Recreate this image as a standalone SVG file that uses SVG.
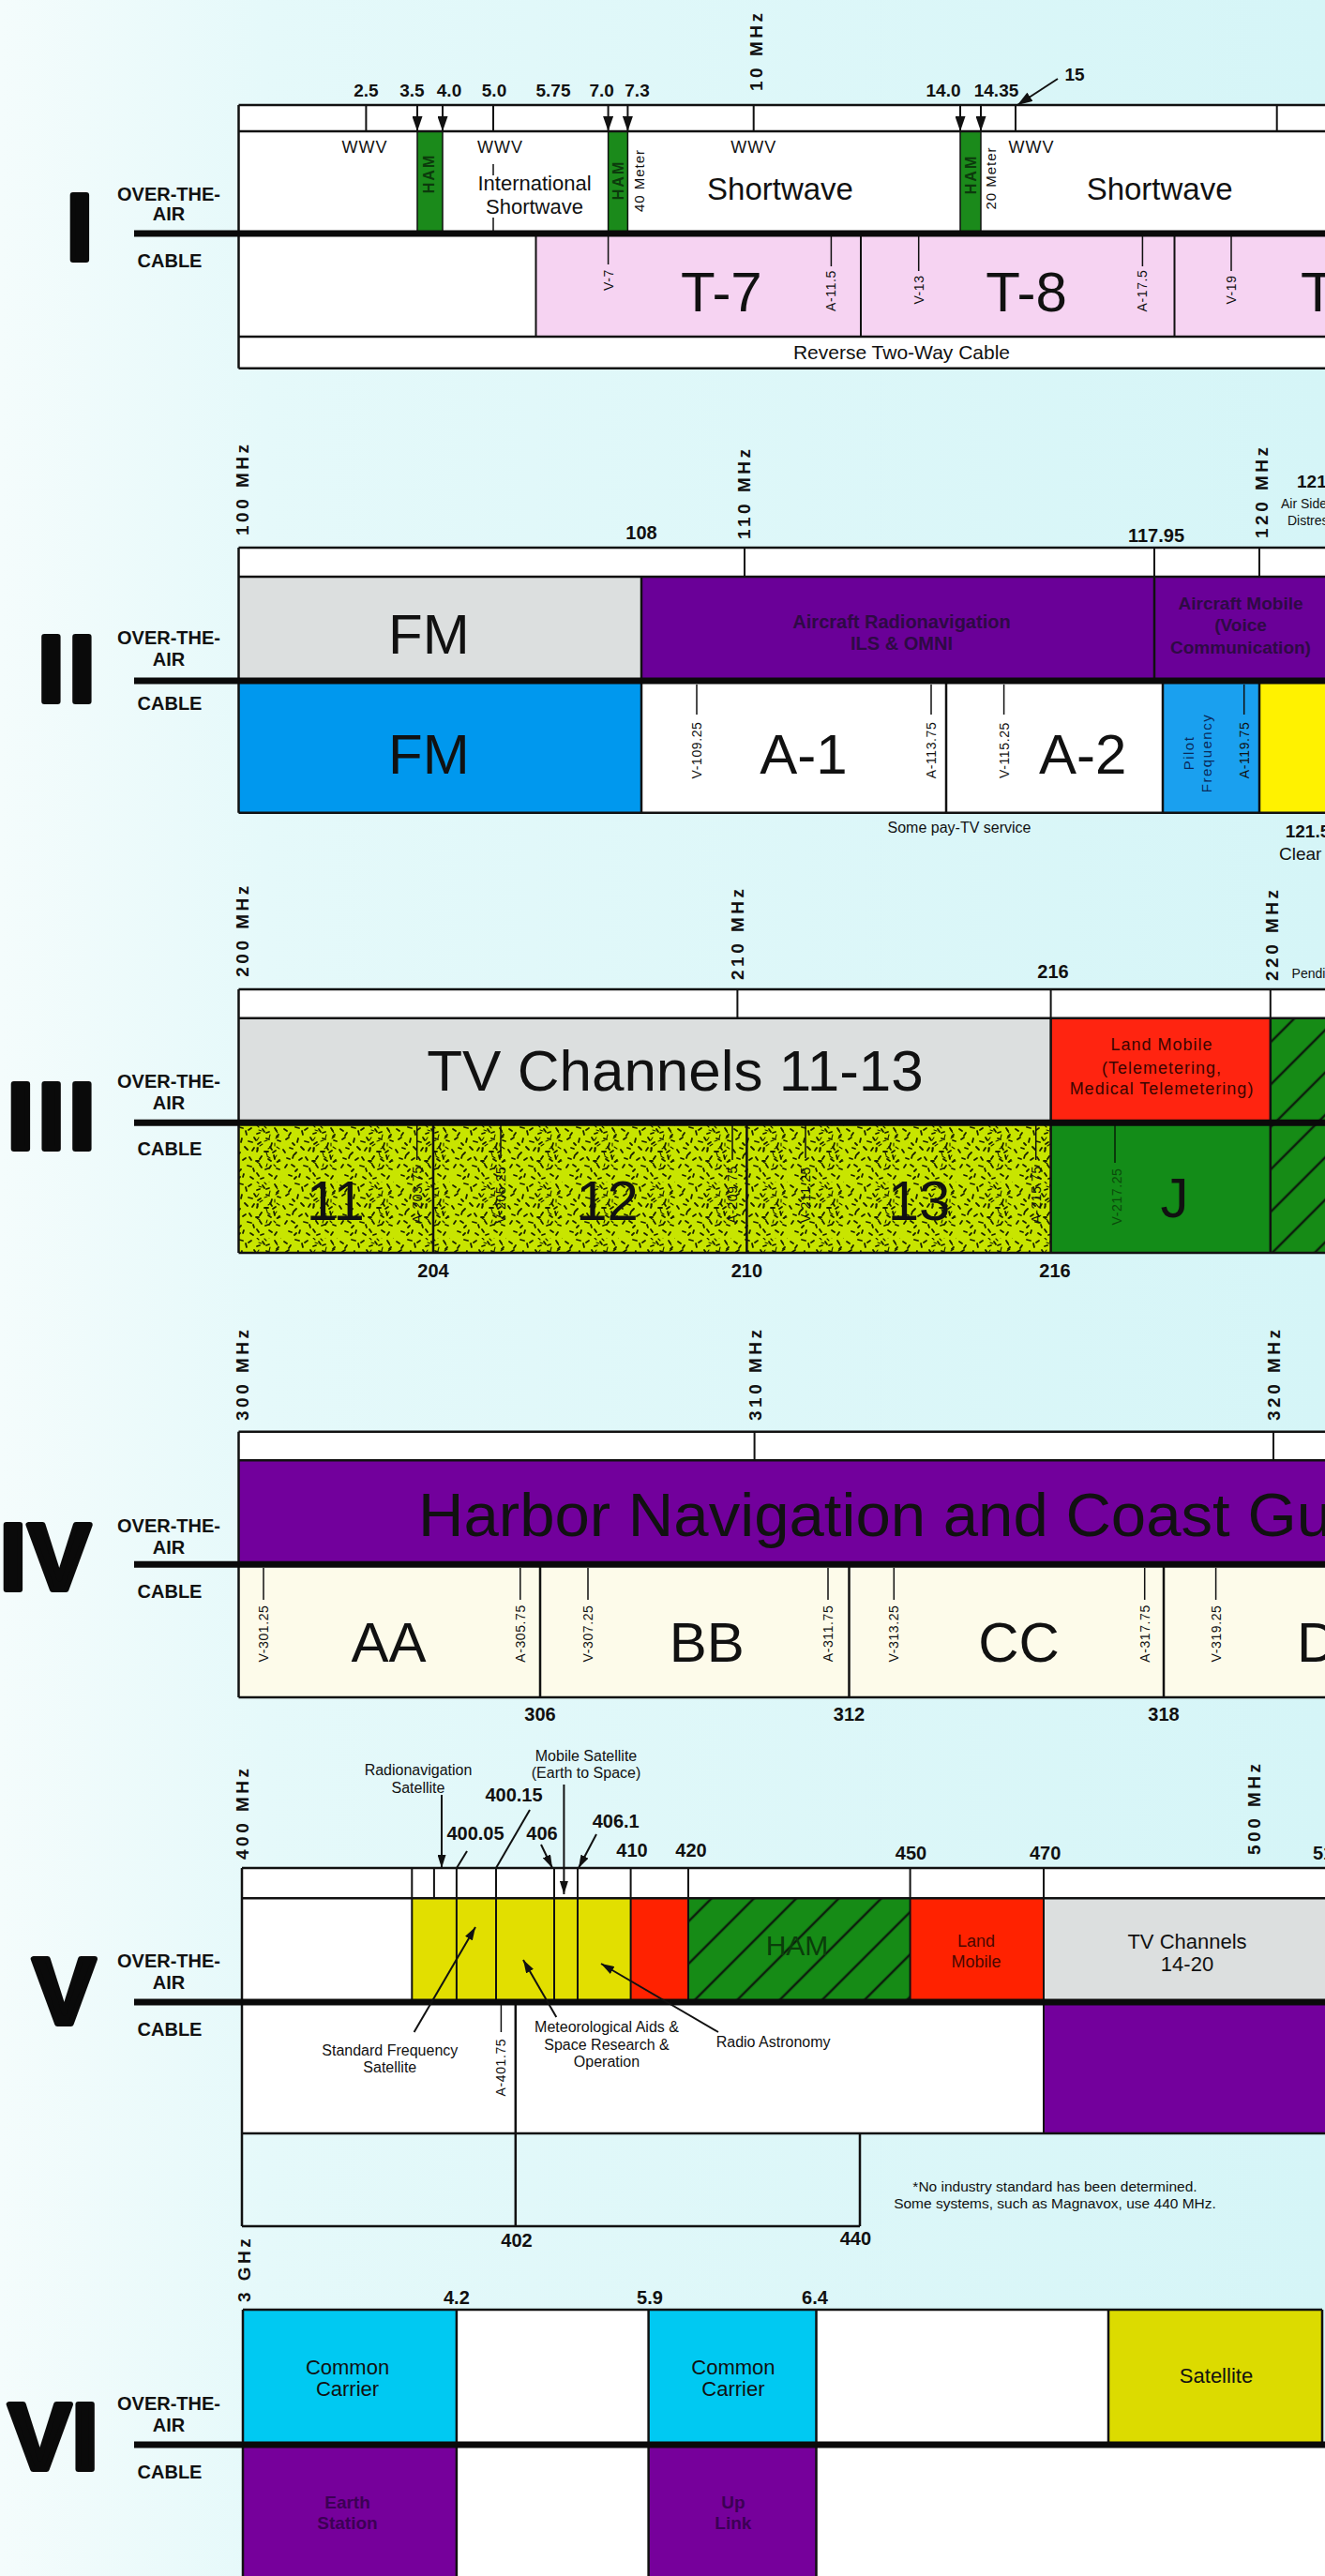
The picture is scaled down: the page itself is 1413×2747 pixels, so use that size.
<svg xmlns="http://www.w3.org/2000/svg" width="1413" height="2747" viewBox="0 0 1413 2747">
<defs>
<linearGradient id="bg" x1="0" y1="0" x2="1" y2="0">
<stop offset="0" stop-color="#f4fcfc"/><stop offset="0.2" stop-color="#e5f9fa"/><stop offset="1" stop-color="#d5f5f7"/>
</linearGradient>
<pattern id="hatch" patternUnits="userSpaceOnUse" width="32" height="32" patternTransform="rotate(45)">
<rect width="32" height="32" fill="#168b16"/><line x1="16" y1="0" x2="16" y2="32" stroke="#0c1f0c" stroke-width="2.5"/>
</pattern>
<path id="spk" d="M3 4l3 2M10 8l-2 3M15 2l4 1M22 6l1 4M28 3l-3 2M34 9l3-1M40 4l2 3M47 7l-3 1M53 3l2 3M57 10l-2 2M5 15l3-2M12 19l2 2M18 14l-1 4M25 17l4 1M31 13l2 3M38 18l-3 2M44 14l3 1M50 19l-1 3M56 16l3 1M2 26l2 3M9 24l3 1M16 29l-2 2M21 23l3 3M29 27l2-3M35 24l-1 4M42 28l4 0M48 23l2 3M54 27l-3 2M6 35l3 1M13 32l-1 3M19 37l3-2M26 34l2 3M33 38l3 0M39 33l-2 3M46 36l3 2M52 32l1 4M58 37l-2 2M4 45l2-3M11 42l3 2M17 47l-2 2M24 43l4 1M30 46l1 3M37 42l2 3M43 47l3-1M49 43l-2 3M55 46l3 1M8 53l3 1M14 57l2-2M20 52l-1 3M27 55l3 2M34 51l2 3M41 56l-3 1M47 52l3 2M53 57l2-3"/>
<pattern id="speck" patternUnits="userSpaceOnUse" width="60" height="60">
<rect width="60" height="60" fill="#c8e500"/>
<use href="#spk" stroke="#1c2400" stroke-width="1.8" fill="none" stroke-linecap="round"/>
<use href="#spk" stroke="#1c2400" stroke-width="1.1" fill="none" stroke-linecap="round" transform="translate(31,17) rotate(90 0 0) translate(-31,-60)"/>
</pattern>
<marker id="ah" viewBox="0 0 16 11" refX="16" refY="5.5" markerWidth="16" markerHeight="11" markerUnits="userSpaceOnUse" orient="auto"><path d="M0 0L16 5.5L0 11Z" fill="#111"/></marker>
<marker id="ahs" viewBox="0 0 14 9" refX="14" refY="4.5" markerWidth="14" markerHeight="9" markerUnits="userSpaceOnUse" orient="auto"><path d="M0 0L14 4.5L0 9Z" fill="#111"/></marker>
</defs>
<style>
text{font-family:"Liberation Sans",Arial,Helvetica,sans-serif;fill:#111}
.rom{font-size:100px;font-weight:bold;stroke:#0a0a0a;stroke-width:6;stroke-linejoin:round;fill:#0a0a0a}
.lab{font-size:20px;font-weight:bold;text-anchor:middle}
.num{font-size:19px;font-weight:bold;text-anchor:middle}
.n20{font-size:20px;font-weight:bold;text-anchor:middle}
.mhz{font-size:19px;font-weight:bold;letter-spacing:3.5px}
.ch{font-size:14px;text-anchor:middle;letter-spacing:0.6px}
.big{font-size:60px;text-anchor:middle}
.mid{font-size:22px;text-anchor:middle}
.sw{font-size:33px;text-anchor:middle}
.wwv{font-size:18px;text-anchor:middle;letter-spacing:1px}
.ann{font-size:16px;text-anchor:middle}
.dk{font-size:19px;font-weight:bold;text-anchor:middle;fill:#2e0a44}
.ham{font-size:16px;font-weight:bold;text-anchor:middle;letter-spacing:2px;fill:#0c3a0c}
.met{font-size:15px;text-anchor:middle;letter-spacing:1px}
.ln{fill:none;stroke:#111;stroke-width:2.5}
.tk{fill:none;stroke:#111;stroke-width:2}
.tn{fill:none;stroke:#111;stroke-width:1.5}
.thick{stroke:#0a0a0a;stroke-width:7}
</style>
<rect width="1413" height="2747" fill="url(#bg)"/>

<!-- SECTION I -->
<g id="sec1">
<g id="s1-title"><text class="rom" x="71" y="277">I</text>
<text class="lab" x="180" y="214">OVER-THE-</text><text class="lab" x="180" y="235">AIR</text><text class="lab" x="181" y="285">CABLE</text></g>
<g id="s1-base"><rect x="254.5" y="112" width="1158.5" height="281" fill="#fff"/></g>
<g id="s1-pink"><rect x="571.5" y="249" width="841.5" height="110" fill="#f6d3f2"/></g>
<g id="s1-ham80"><rect x="445" y="140" width="27" height="109" fill="#1b8a1b" stroke="#111" stroke-width="1.5"/><text class="ham" transform="translate(463,185) rotate(-90)">HAM</text></g>
<g id="s1-ham40"><rect x="648.6" y="140" width="20.8" height="109" fill="#1b8a1b" stroke="#111" stroke-width="1.5"/><text class="ham" transform="translate(664.7,192) rotate(-90)">HAM</text><text class="met" transform="translate(687,192.5) rotate(-90)">40 Meter</text></g>
<g id="s1-ham20"><rect x="1024" y="140" width="22" height="109" fill="#1b8a1b" stroke="#111" stroke-width="1.5"/><text class="ham" transform="translate(1041.3,186) rotate(-90)">HAM</text><text class="met" transform="translate(1062.4,190) rotate(-90)">20 Meter</text></g>
<path class="ln" d="M254.5 112H1413M254.5 140H1413M254.5 359H1413M254.5 392.7H1413M254.5 112V392.7"/>
<path class="tk" d="M390.4 112V140M526 112V140M803.7 112V140M1083 112V140M1361.7 112V140M571.5 249V359M918 249V359M1252.5 249V359"/>
<path class="tn" d="M526 175V187M526 232V247M648.6 252V282M886.4 252V284M979.7 252V289M1218.4 252V284M1313 252V289"/>
<line class="thick" x1="143" y1="249" x2="1413" y2="249"/>
<g id="s1-scale">
<text class="num" x="390.4" y="103">2.5</text><text class="num" x="439.4" y="103">3.5</text><text class="num" x="479" y="103">4.0</text><text class="num" x="527" y="103">5.0</text><text class="num" x="590" y="103">5.75</text><text class="num" x="641.7" y="103">7.0</text><text class="num" x="679.5" y="103">7.3</text><text class="num" x="1006" y="103">14.0</text><text class="num" x="1062.5" y="103">14.35</text><text class="num" x="1146" y="86">15</text>
<text class="mhz" transform="translate(812.5,97) rotate(-90)">10 MHz</text>
</g>
<g id="s1-ota">
<text class="wwv" x="389" y="163">WWV</text><text class="wwv" x="533.5" y="163">WWV</text><text class="wwv" x="803.7" y="163">WWV</text><text class="wwv" x="1100" y="163">WWV</text>
<text class="mid" x="570" y="203">International</text><text class="mid" x="570" y="228">Shortwave</text>
<text class="sw" x="832" y="213">Shortwave</text><text class="sw" x="1236.6" y="213">Shortwave</text>
</g>
<g id="s1-cable">
<text class="ch" transform="translate(653.6,298.5) rotate(-90)">V-7</text>
<text class="big" x="769.4" y="332">T-7</text>
<text class="ch" transform="translate(891.4,310) rotate(-90)">A-11.5</text>
<text class="ch" transform="translate(984.7,309) rotate(-90)">V-13</text>
<text class="big" x="1094.6" y="332">T-8</text>
<text class="ch" transform="translate(1223.4,310) rotate(-90)">A-17.5</text>
<text class="ch" transform="translate(1318,309) rotate(-90)">V-19</text>
<text class="big" x="1387" y="332" style="text-anchor:start">T-9</text>
<text x="961.5" y="383" style="font-size:21px;text-anchor:middle">Reverse Two-Way Cable</text>
</g>
</g>

<!-- SECTION II -->
<g id="sec2">
<g id="s2-title"><text class="rom" x="40.6" y="748" style="letter-spacing:5px">II</text>
<text class="lab" x="180" y="686.7">OVER-THE-</text><text class="lab" x="180" y="710">AIR</text><text class="lab" x="181" y="756.7">CABLE</text></g>
<rect x="254.5" y="584" width="1158.5" height="31" fill="#fff"/>
<g id="s2-fm-ota"><rect x="254.5" y="615" width="429.5" height="111" fill="#dcdfdf"/><text class="big" x="457.4" y="696.7">FM</text></g>
<g id="s2-airnav"><rect x="684" y="615" width="547" height="111" fill="#6a0098"/><text class="dk" x="961.5" y="670" style="font-size:20px">Aircraft Radionavigation</text><text class="dk" x="961.5" y="693" style="font-size:20px">ILS &amp; OMNI</text></g>
<g id="s2-airmobile"><rect x="1231" y="615" width="182" height="111" fill="#6a0098"/><text class="dk" x="1323" y="650">Aircraft Mobile</text><text class="dk" x="1323" y="673">(Voice</text><text class="dk" x="1323" y="697">Communication)</text></g>
<g id="s2-fm-cable"><rect x="254.5" y="726" width="429.5" height="140.7" fill="#0098ee"/><text class="big" x="457.4" y="825">FM</text></g>
<g id="s2-a1"><rect x="684" y="726" width="325" height="140.7" fill="#fff"/><text class="big" x="857" y="825">A-1</text></g>
<g id="s2-a2"><rect x="1009" y="726" width="231" height="140.7" fill="#fff"/><text class="big" x="1154.7" y="825">A-2</text></g>
<g id="s2-pilot"><rect x="1240" y="726" width="103" height="140.7" fill="#1aa0ef"/><text class="met" style="fill:#0a2a5a;letter-spacing:1.5px" transform="translate(1273,803) rotate(-90)">Pilot</text><text class="met" style="fill:#0a2a5a;letter-spacing:1.5px" transform="translate(1292,803) rotate(-90)">Frequency</text></g>
<g id="s2-yellow"><rect x="1343" y="726" width="70" height="140.7" fill="#fff200"/></g>
<path class="ln" d="M254.5 584H1413M254.5 615H1413M254.5 866.7H1413M254.5 584V866.7M684 615V866.7M1231 615V726M1009 726V866.7M1240 726V866.7M1343 726V866.7"/>
<path class="tk" d="M794 584V615M1231 584V615M1343 584V615"/>
<path class="tn" d="M743 730V762M993 730V762M1070.6 730V762M1326.7 730V762"/>
<line class="thick" x1="143" y1="726" x2="1413" y2="726"/>
<text class="ch" transform="translate(748,800) rotate(-90)">V-109.25</text>
<text class="ch" transform="translate(998,800) rotate(-90)">A-113.75</text>
<text class="ch" transform="translate(1075.6,800) rotate(-90)">V-115.25</text>
<text class="ch" transform="translate(1331.7,800) rotate(-90)">A-119.75</text>
<g id="s2-scale">
<text class="mhz" transform="translate(265,571) rotate(-90)">100 MHz</text>
<text class="mhz" transform="translate(800,575) rotate(-90)">110 MHz</text>
<text class="mhz" transform="translate(1352,574) rotate(-90)">120 MHz</text>
<text class="n20" x="684" y="575">108</text><text class="n20" x="1233" y="578">117.95</text>
<text x="1383" y="520" style="font-size:19px;font-weight:bold">121.5</text>
<text x="1366" y="542" style="font-size:14px">Air Side</text><text x="1373" y="560" style="font-size:14px">Distress</text>
<text x="1023" y="888" style="font-size:16px;text-anchor:middle">Some pay-TV service</text>
<text x="1370.7" y="893" style="font-size:19px;font-weight:bold">121.5</text>
<text x="1364" y="917" style="font-size:19px">Clear</text>
</g>
</g>

<!-- SECTION III -->
<g id="sec3">
<g id="s3-title"><text class="rom" x="8" y="1225" style="letter-spacing:5px">III</text>
<text class="lab" x="180" y="1160">OVER-THE-</text><text class="lab" x="180" y="1183">AIR</text><text class="lab" x="181" y="1231.7">CABLE</text></g>
<rect x="254.5" y="1055" width="1158.5" height="30.7" fill="#fff"/>
<g id="s3-tv"><rect x="254.5" y="1085.7" width="866.1" height="111.6" fill="#dcdfdf"/><text x="720" y="1163" style="font-size:62px;text-anchor:middle">TV Channels 11-13</text></g>
<g id="s3-landmobile"><rect x="1120.6" y="1085.7" width="234.2" height="111.6" fill="#ff2410"/>
<text x="1239" y="1120" style="font-size:18px;text-anchor:middle;letter-spacing:1px;fill:#3a0500">Land Mobile</text>
<text x="1239" y="1144.5" style="font-size:18px;text-anchor:middle;letter-spacing:1px;fill:#3a0500">(Telemetering,</text>
<text x="1239" y="1167" style="font-size:18px;text-anchor:middle;letter-spacing:1px;fill:#3a0500">Medical Telemetering)</text></g>
<g id="s3-hatch"><rect x="1354.8" y="1085.7" width="58.2" height="250.3" fill="url(#hatch)"/></g>
<g id="s3-cable11-13"><rect x="254.5" y="1197.3" width="866.1" height="138.7" fill="url(#speck)"/>
<text class="big" x="357.8" y="1301">11</text><text class="big" x="647.6" y="1301">12</text><text class="big" x="980" y="1301">13</text></g>
<g id="s3-j"><rect x="1120.6" y="1197.3" width="234.2" height="138.7" fill="#138c18"/><text class="big" x="1252.5" y="1298">J</text>
<path d="M1189 1200V1240" stroke="#0a3a0a" stroke-width="2"/><text class="ch" style="fill:#0b4a0b" transform="translate(1196,1276) rotate(-90)">V-217.25</text></g>
<path class="ln" d="M254.5 1055H1413M254.5 1085.7H1413M254.5 1336H1413M254.5 1055V1336M1120.6 1085.7V1336M1354.8 1085.7V1336M462 1197V1336M796.4 1197V1336"/>
<path class="tk" d="M786.4 1055V1085.7M1120.6 1055V1085.7M1354.8 1055V1085.7"/>
<path class="tn" d="M444.7 1200V1237M534 1200V1235M781 1200V1237M859 1200V1235M1104.7 1200V1237"/>
<line class="thick" x1="143" y1="1197.3" x2="1413" y2="1197.3"/>
<text class="ch" transform="translate(449.7,1274) rotate(-90)">A-203.75</text>
<text class="ch" transform="translate(539,1274) rotate(-90)">V-205.25</text>
<text class="ch" transform="translate(786,1274) rotate(-90)">A-209.75</text>
<text class="ch" transform="translate(864,1274) rotate(-90)">V-211.25</text>
<text class="ch" transform="translate(1109.7,1274) rotate(-90)">A-215.75</text>
<g id="s3-scale">
<text class="mhz" transform="translate(265,1041.7) rotate(-90)">200 MHz</text>
<text class="mhz" transform="translate(793.4,1045) rotate(-90)">210 MHz</text>
<text class="mhz" transform="translate(1363,1046) rotate(-90)">220 MHz</text>
<text class="n20" x="1123" y="1043">216</text>
<text x="1377.6" y="1042.7" style="font-size:14px">Pending</text>
<text class="n20" x="462" y="1361.7">204</text><text class="n20" x="796.4" y="1361.7">210</text><text class="n20" x="1125" y="1361.7">216</text>
</g>
</g>

<!-- SECTION IV -->
<g id="sec4">
<g id="s4-title"><text class="rom" x="0" y="1695" style="letter-spacing:2px">IV</text>
<text class="lab" x="180" y="1634">OVER-THE-</text><text class="lab" x="180" y="1656.7">AIR</text><text class="lab" x="181" y="1704">CABLE</text></g>
<rect x="254.5" y="1526.7" width="1158.5" height="30.6" fill="#fff"/>
<g id="s4-harbor"><rect x="254.5" y="1557.3" width="1158.5" height="111" fill="#72009c"/>
<text x="446" y="1638" style="font-size:64px" textLength="1071" lengthAdjust="spacingAndGlyphs">Harbor Navigation and Coast Guard</text></g>
<g id="s4-cable"><rect x="254.5" y="1668.3" width="1158.5" height="141.7" fill="#fdfbea"/>
<text class="big" x="414.4" y="1771.7">AA</text><text class="big" x="753.7" y="1771.7">BB</text><text class="big" x="1086.5" y="1771.7">CC</text><text class="big" x="1383" y="1771.7" style="text-anchor:start">DD</text></g>
<path class="ln" d="M254.5 1526.7H1413M254.5 1557.3H1413M254.5 1810H1413M254.5 1526.7V1810M576 1668V1810M905.5 1668V1810M1241 1668V1810"/>
<path class="tk" d="M804.6 1526.7V1557.3M1358 1526.7V1557.3"/>
<path class="tn" d="M281 1672V1706M554.8 1672V1706M627 1672V1706M883 1672V1706M953.3 1672V1706M1220.7 1672V1706M1296.6 1672V1706"/>
<line class="thick" x1="143" y1="1668.3" x2="1413" y2="1668.3"/>
<text class="ch" transform="translate(286,1742) rotate(-90)">V-301.25</text>
<text class="ch" transform="translate(559.8,1742) rotate(-90)">A-305.75</text>
<text class="ch" transform="translate(632,1742) rotate(-90)">V-307.25</text>
<text class="ch" transform="translate(888,1742) rotate(-90)">A-311.75</text>
<text class="ch" transform="translate(958.3,1742) rotate(-90)">V-313.25</text>
<text class="ch" transform="translate(1225.7,1742) rotate(-90)">A-317.75</text>
<text class="ch" transform="translate(1301.6,1742) rotate(-90)">V-319.25</text>
<g id="s4-scale">
<text class="mhz" transform="translate(265,1515) rotate(-90)">300 MHz</text>
<text class="mhz" transform="translate(811.6,1515) rotate(-90)">310 MHz</text>
<text class="mhz" transform="translate(1365,1515) rotate(-90)">320 MHz</text>
<text class="n20" x="576" y="1835">306</text><text class="n20" x="905.5" y="1835">312</text><text class="n20" x="1241" y="1835">318</text>
</g>
</g>

<!-- SECTION V -->
<g id="sec5">
<g id="s5-title"><text class="rom" x="35" y="2158">V</text>
<text class="lab" x="180" y="2097.5">OVER-THE-</text><text class="lab" x="180" y="2121">AIR</text><text class="lab" x="181" y="2171">CABLE</text></g>
<rect x="258" y="1992" width="1155" height="32.3" fill="#fff"/>
<rect x="258" y="2024.3" width="181.3" height="110.7" fill="#fff"/>
<g id="s5-sat"><rect x="439.3" y="2024.3" width="233.3" height="110.7" fill="#e2df00"/></g>
<g id="s5-red1"><rect x="672.6" y="2024.3" width="61.4" height="110.7" fill="#ff2200"/></g>
<g id="s5-ham"><rect x="734" y="2024.3" width="236.6" height="110.7" fill="url(#hatch)"/><text x="850" y="2085" style="font-size:30px;text-anchor:middle;fill:#0a3d0a">HAM</text></g>
<g id="s5-landmobile"><rect x="970.6" y="2024.3" width="142.4" height="110.7" fill="#ff2200"/><text x="1041" y="2076" style="font-size:18px;text-anchor:middle;fill:#4a0800">Land</text><text x="1041" y="2097.5" style="font-size:18px;text-anchor:middle;fill:#4a0800">Mobile</text></g>
<g id="s5-tv"><rect x="1113" y="2024.3" width="300" height="110.7" fill="#dcdfdf"/><text class="mid" x="1266" y="2078">TV Channels</text><text class="mid" x="1266" y="2102">14-20</text></g>
<g id="s5-cable"><rect x="258" y="2135" width="855" height="140" fill="#fff"/></g>
<g id="s5-cable-purple"><rect x="1113" y="2135" width="300" height="140" fill="#73009c"/></g>
<path class="ln" d="M258 1992H1413M258 2024.3H1413M258 2275H1413M258 2374H917M258 1992V2374M917 2275V2374M549.8 2135V2374"/>
<path class="tk" d="M439.3 1992V2135M462.9 1992V2024.3M486.9 1992V2135M529 1992V2135M591 1992V2135M616 1992V2135M672.6 1992V2135M734 1992V2135M970.6 1992V2135M1113 1992V2275"/>
<path class="tn" d="M534.4 2138V2167"/>
<line class="thick" x1="143" y1="2135" x2="1413" y2="2135"/>
<text class="ch" transform="translate(539.4,2204.6) rotate(-90)">A-401.75</text>
<g id="s5-scale">
<text class="mhz" transform="translate(265,1983) rotate(-90)">400 MHz</text>
<text class="mhz" transform="translate(1343.7,1978) rotate(-90)">500 MHz</text>
<text class="n20" x="507" y="1962">400.05</text><text class="n20" x="548" y="1921">400.15</text><text class="n20" x="578" y="1962">406</text><text class="n20" x="656.7" y="1949">406.1</text><text class="n20" x="674" y="1980">410</text><text class="n20" x="737" y="1980">420</text><text class="n20" x="971.5" y="1983">450</text><text class="n20" x="1114.7" y="1983">470</text>
<text x="1400" y="1983" style="font-size:20px;font-weight:bold">512</text>
<text class="n20" x="551" y="2396">402</text><text class="n20" x="912.4" y="2394">440</text>
</g>
<g id="s5-notes">
<text class="ann" x="446" y="1893">Radionavigation</text><text class="ann" x="446" y="1911.5">Satellite</text>
<text class="ann" x="625" y="1878">Mobile Satellite</text><text class="ann" x="625" y="1896.4">(Earth to Space)</text>
<text class="ann" x="415.8" y="2192">Standard Frequency</text><text class="ann" x="415.8" y="2210">Satellite</text>
<text class="ann" x="647" y="2167">Meteorological Aids &amp;</text><text class="ann" x="647" y="2185.5">Space Research &amp;</text><text class="ann" x="647" y="2203.5">Operation</text>
<text x="763.7" y="2183" style="font-size:16px">Radio Astronomy</text>
<text x="1125" y="2337" style="font-size:15.5px;text-anchor:middle">*No industry standard has been determined.</text>
<text x="1125" y="2355" style="font-size:15.5px;text-anchor:middle">Some systems, such as Magnavox, use 440 MHz.</text>
</g>
</g>

<!-- SECTION VI -->
<g id="sec6">
<g id="s6-title"><text class="rom" x="9" y="2633" style="letter-spacing:1px">VI</text>
<text class="lab" x="180" y="2570">OVER-THE-</text><text class="lab" x="180" y="2593">AIR</text><text class="lab" x="181" y="2643">CABLE</text></g>
<g id="s6-cc1"><rect x="259" y="2463" width="227.9" height="144" fill="#00c9f2"/><text class="mid" x="370.5" y="2532">Common</text><text class="mid" x="370.5" y="2555">Carrier</text></g>
<rect x="486.9" y="2463" width="204.7" height="284" fill="#fff"/>
<g id="s6-cc2"><rect x="691.6" y="2463" width="178.9" height="144" fill="#00c9f2"/><text class="mid" x="781.9" y="2532">Common</text><text class="mid" x="781.9" y="2555">Carrier</text></g>
<rect x="870.5" y="2463" width="311.5" height="144" fill="#fff"/>
<g id="s6-sat"><rect x="1182" y="2463" width="228" height="144" fill="#dcdb00"/><text class="mid" x="1297" y="2540.7">Satellite</text></g>
<g id="s6-earth"><rect x="259" y="2607" width="227.9" height="140" fill="#76009b"/><text class="dk" x="370.5" y="2675" style="fill:#3c0055">Earth</text><text class="dk" x="370.5" y="2697" style="fill:#3c0055">Station</text></g>
<g id="s6-uplink"><rect x="691.6" y="2607" width="178.9" height="140" fill="#76009b"/><text class="dk" x="781.9" y="2675" style="fill:#3c0055">Up</text><text class="dk" x="781.9" y="2697" style="fill:#3c0055">Link</text></g>
<rect x="870.5" y="2607" width="542.5" height="140" fill="#fff"/>
<path class="ln" d="M259 2463H1410M259 2463V2747M486.9 2463V2747M691.6 2463V2747M870.5 2463V2747M1182 2463V2607M1410 2463V2607"/>
<line class="thick" x1="143" y1="2607" x2="1413" y2="2607"/>
<g id="s6-scale">
<text class="mhz" transform="translate(267.4,2455) rotate(-90)">3 GHz</text>
<text class="n20" x="486.9" y="2457">4.2</text><text class="n20" x="693" y="2457">5.9</text><text class="n20" x="869" y="2457">6.4</text>
</g>
</g>

<!-- CONNECTORS -->
<g id="connectors" fill="none" stroke="#111" stroke-width="2">
<line x1="445" y1="113" x2="445" y2="140" marker-end="url(#ah)"/>
<line x1="472" y1="113" x2="472" y2="140" marker-end="url(#ah)"/>
<line x1="648.6" y1="113" x2="648.6" y2="140" marker-end="url(#ah)"/>
<line x1="669.4" y1="113" x2="669.4" y2="140" marker-end="url(#ah)"/>
<line x1="1024" y1="113" x2="1024" y2="140" marker-end="url(#ah)"/>
<line x1="1046" y1="113" x2="1046" y2="140" marker-end="url(#ah)"/>
<line x1="1128" y1="84" x2="1085" y2="112" marker-end="url(#ah)"/>
<line x1="471" y1="1914" x2="471" y2="1992" marker-end="url(#ahs)"/>
<line x1="601.4" y1="1903" x2="601.4" y2="2020" marker-end="url(#ahs)"/>
<line x1="565" y1="1930" x2="529" y2="1992"/>
<line x1="498" y1="1974" x2="487" y2="1992"/>
<line x1="577" y1="1967" x2="589" y2="1992" marker-end="url(#ahs)"/>
<line x1="636" y1="1956" x2="617" y2="1992" marker-end="url(#ahs)"/>
<line x1="441.6" y1="2167" x2="507" y2="2055" marker-end="url(#ahs)"/>
<line x1="593.3" y1="2151" x2="558" y2="2090" marker-end="url(#ahs)"/>
<line x1="766" y1="2167" x2="641" y2="2094" marker-end="url(#ahs)"/>
</g>
</svg>
